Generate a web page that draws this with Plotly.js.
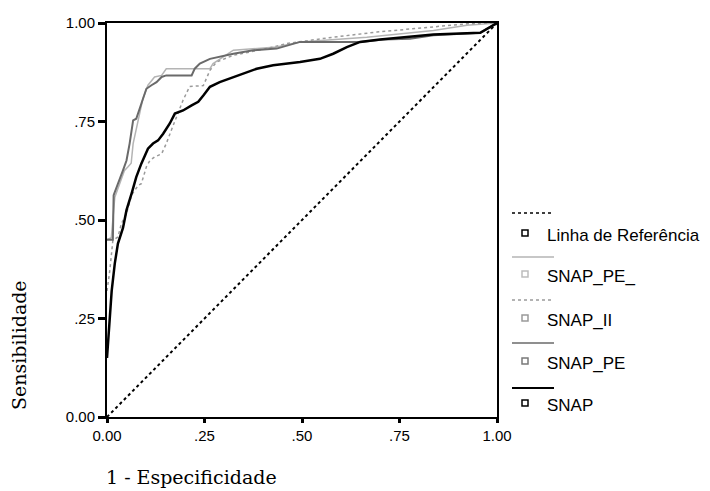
<!DOCTYPE html>
<html>
<head>
<meta charset="utf-8">
<script src="https://cdn.plot.ly/plotly-3.0.1.min.js"></script>
<style>html,body{margin:0;padding:0;background:#fff;}#chart{width:710px;height:491px;}</style>
</head>
<body>
<div id="chart"></div>
<script>
// ---- data ----
var refX = [0, 1];
var refY = [0, 1];

var snapX = [0, 0.004, 0.007, 0.012, 0.02, 0.028, 0.041, 0.05, 0.063, 0.075, 0.088, 0.105, 0.118, 0.131, 0.144, 0.161, 0.174, 0.195, 0.217, 0.234, 0.247, 0.264, 0.289, 0.324, 0.358, 0.384, 0.426, 0.495, 0.546, 0.58, 0.615, 0.649, 0.70, 0.769, 0.837, 0.957, 1];
var snapY = [0.15, 0.20, 0.25, 0.32, 0.39, 0.44, 0.48, 0.525, 0.567, 0.609, 0.643, 0.681, 0.694, 0.702, 0.719, 0.745, 0.77, 0.778, 0.791, 0.80, 0.816, 0.838, 0.85, 0.863, 0.876, 0.884, 0.893, 0.901, 0.909, 0.922, 0.939, 0.952, 0.958, 0.964, 0.971, 0.975, 1];

var snapPeX = [0, 0.015, 0.017, 0.028, 0.041, 0.05, 0.058, 0.067, 0.075, 0.088, 0.101, 0.114, 0.127, 0.14, 0.152, 0.217, 0.225, 0.238, 0.264, 0.324, 0.375, 0.435, 0.495, 0.649, 0.709, 0.777, 0.837, 0.957, 1];
var snapPeY = [0.45, 0.45, 0.563, 0.59, 0.626, 0.651, 0.694, 0.753, 0.757, 0.795, 0.833, 0.842, 0.85, 0.863, 0.867, 0.867, 0.884, 0.897, 0.909, 0.922, 0.931, 0.935, 0.952, 0.952, 0.958, 0.96, 0.969, 0.975, 1];

var snapPe2X = [0, 0.011, 0.02, 0.032, 0.045, 0.054, 0.062, 0.067, 0.08, 0.092, 0.105, 0.122, 0.14, 0.152, 0.264, 0.272, 0.324, 0.435, 0.495, 0.666, 0.837, 0.923, 1];
var snapPe2Y = [0.45, 0.455, 0.558, 0.592, 0.626, 0.635, 0.644, 0.694, 0.753, 0.808, 0.842, 0.863, 0.867, 0.884, 0.884, 0.897, 0.931, 0.939, 0.952, 0.964, 0.981, 0.994, 1];

var snapIIX = [0, 0.007, 0.015, 0.028, 0.037, 0.05, 0.063, 0.08, 0.088, 0.101, 0.11, 0.122, 0.14, 0.152, 0.165, 0.178, 0.195, 0.212, 0.247, 0.264, 0.281, 0.324, 0.409, 0.461, 0.58, 0.692, 0.795, 0.923, 1];
var snapIIY = [0.32, 0.37, 0.448, 0.457, 0.491, 0.516, 0.563, 0.588, 0.592, 0.635, 0.651, 0.66, 0.668, 0.694, 0.728, 0.761, 0.804, 0.839, 0.841, 0.88, 0.901, 0.918, 0.935, 0.948, 0.964, 0.977, 0.986, 0.998, 1];

var tickVals = [0, 0.25, 0.5, 0.75, 1];
var xTickText = ["0.00", ".25", ".50", ".75", "1.00"];
var yTickText = ["0.00", ".25", ".50", ".75", "1.00"];

var legendNames = ["Linha de Referência", "SNAP_PE_", "SNAP_II", "SNAP_PE", "SNAP"];
var xTitle = "1 - Especificidade";
var yTitle = "Sensibilidade";

// ---- layout helpers (pixel -> paper) ----
var W = 710, H = 491;
var M = {l: 107, r: 213, t: 23, b: 74};
var PW = W - M.l - M.r, PH = H - M.t - M.b;
function px(x) { return (x - M.l) / PW; }
function py(y) { return (H - M.b - y) / PH; }

var styles = [
  {color: '#000000', dash: 'dot', width: 2, sq: '#000000'},
  {color: '#b4b4b4', dash: 'solid', width: 1.5, sq: '#bdbdbd'},
  {color: '#9a9a9a', dash: 'dot', width: 1.5, sq: '#9a9a9a'},
  {color: '#6a6a6a', dash: 'solid', width: 2, sq: '#7a7a7a'},
  {color: '#000000', dash: 'solid', width: 2.5, sq: '#000000'}
];

var traces = [
  {x: refX, y: refY, mode: 'lines', line: {color: styles[0].color, dash: 'dot', width: 2}, hoverinfo: 'skip'},
  {x: snapPe2X, y: snapPe2Y, mode: 'lines', line: {color: styles[1].color, width: styles[1].width}},
  {x: snapIIX, y: snapIIY, mode: 'lines', line: {color: styles[2].color, dash: 'dot', width: styles[2].width}},
  {x: snapPeX, y: snapPeY, mode: 'lines', line: {color: styles[3].color, width: styles[3].width}},
  {x: snapX, y: snapY, mode: 'lines', line: {color: styles[4].color, width: styles[4].width}}
];

// legend custom (line sample row + square/label row)
var lineRows = [213, 257, 300, 343, 388];
var labelRows = [234, 275, 319, 362, 404];
var shapes = [], annotations = [];
for (var i = 0; i < legendNames.length; i++) {
  shapes.push({type: 'line', xref: 'paper', yref: 'paper', x0: px(512), x1: px(554), y0: py(lineRows[i]), y1: py(lineRows[i]),
    line: {color: styles[i].color, dash: styles[i].dash, width: i === 4 ? 2 : 1.5}});
  shapes.push({type: 'rect', xref: 'paper', yref: 'paper', x0: px(522), x1: px(528), y0: py(labelRows[i] - 4), y1: py(labelRows[i] + 2),
    line: {color: styles[i].sq, width: 1.5}, fillcolor: 'rgba(0,0,0,0)'});
  annotations.push({xref: 'paper', yref: 'paper', x: px(545), y: py(labelRows[i] + 1), xanchor: 'left', yanchor: 'middle',
    text: legendNames[i], showarrow: false, font: {family: 'Liberation Sans, Arial, sans-serif', size: 17, color: '#000'}});
}
annotations.push({xref: 'paper', yref: 'paper', x: px(104), y: py(477), xanchor: 'left', yanchor: 'middle',
  text: xTitle, showarrow: false, font: {family: 'DejaVu Serif, serif', size: 19, color: '#000'}});
annotations.push({xref: 'paper', yref: 'paper', x: px(19), y: py(345), xanchor: 'center', yanchor: 'middle', textangle: -90,
  text: yTitle, showarrow: false, font: {family: 'DejaVu Serif, serif', size: 19, color: '#000'}});

var axisCommon = {
  range: [0, 1], showgrid: false, zeroline: false, showline: true, mirror: true,
  linecolor: '#000', linewidth: 2, ticks: 'outside', tickcolor: '#000',
  tickvals: tickVals, tickfont: {family: 'Liberation Sans, Arial, sans-serif', size: 15, color: '#000'}
};

var layout = {
  width: W, height: H, margin: M, showlegend: false,
  paper_bgcolor: '#fff', plot_bgcolor: '#fff',
  xaxis: Object.assign({}, axisCommon, {ticktext: xTickText, ticklen: 4, tickwidth: 3}),
  yaxis: Object.assign({}, axisCommon, {ticktext: yTickText, ticklen: 7, tickwidth: 3}),
  shapes: shapes, annotations: annotations
};

Plotly.newPlot('chart', traces, layout, {displayModeBar: false, staticPlot: true});
</script>
</body>
</html>
